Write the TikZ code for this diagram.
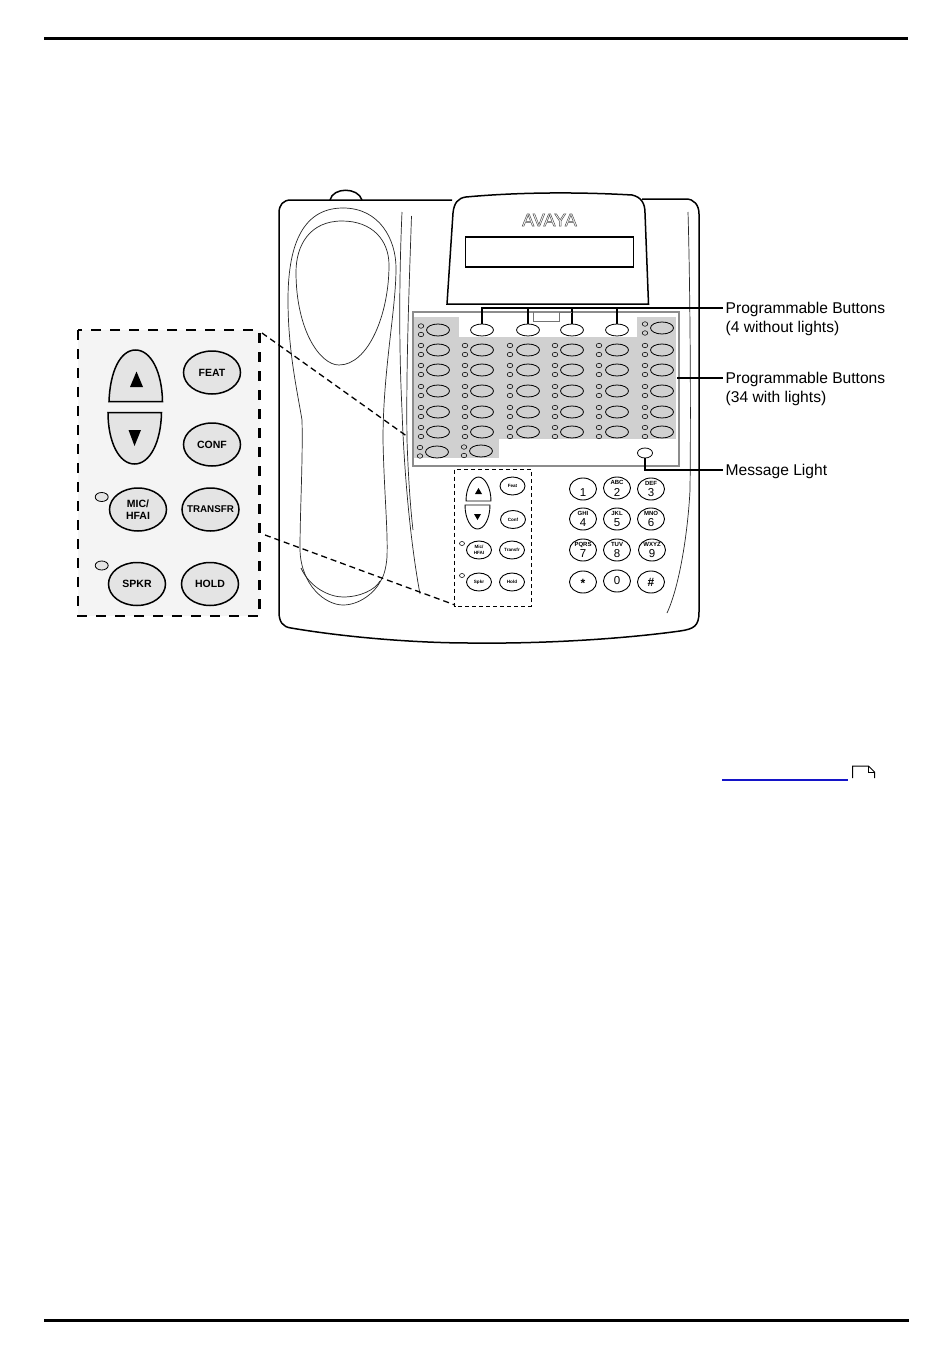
\documentclass[tikz,border=0pt]{standalone}
\usepackage{fontspec}
\setmainfont{Liberation Sans}
\usetikzlibrary{shapes.geometric}
\definecolor{panelgrey}{RGB}{208,208,208}
\definecolor{zoomfill}{RGB}{244,244,244}
\definecolor{keyfill}{RGB}{228,228,228}
\tikzset{
 x=1pt,y=-1pt,
 thin line/.style={draw=black!85,line width=0.7pt},
 phone line/.style={draw=black,line width=1.5pt},
 callout/.style={draw=black,line width=1.5pt},
 btn/.style={draw=black,line width=0.8pt,ellipse,minimum width=23pt,minimum height=12pt,inner sep=0pt,fill=none},
 btnw/.style={btn,fill=white},
 led/.style={draw=black,line width=0.5pt,ellipse,minimum width=5.5pt,minimum height=4.5pt,inner sep=0pt},
 zbtn/.style={draw=black,line width=1.5pt,ellipse,fill=keyfill,minimum width=57pt,minimum height=43pt,inner sep=0pt},
 ztext/.style={inner sep=0pt,align=center,font=\fontsize{10.5}{12}\selectfont\bfseries},
 zled/.style={draw=black,line width=0.8pt,ellipse,fill=keyfill,minimum width=13pt,minimum height=9pt,inner sep=0pt},
 sbtn/.style={draw=black,line width=0.9pt,ellipse,fill=white,minimum width=25pt,minimum height=18pt,inner sep=0pt},
 stext/.style={inner sep=0pt,align=center,font=\fontsize{4.6}{5.5}\selectfont\bfseries},
 sled/.style={draw=black,line width=0.5pt,ellipse,minimum width=5pt,minimum height=4pt,inner sep=0pt},
 key/.style={draw=black,line width=0.9pt,ellipse,minimum width=27pt,minimum height=22pt,inner sep=0pt},
 digit/.style={inner sep=0pt,font=\fontsize{11.5}{12}\selectfont},
 sublet/.style={inner sep=0pt,font=\fontsize{6}{6}\selectfont\bfseries},
 lbl/.style={anchor=west,align=left,font=\fontsize{15.6}{19}\selectfont,inner sep=0pt},
 dashz/.style={draw=black,line width=2.3pt,dash pattern=on 10pt off 9pt},
 dashs/.style={draw=black,line width=0.8pt,dash pattern=on 4pt off 3pt},
 dashc/.style={draw=black,line width=1.3pt,dash pattern=on 6pt off 4pt},
}
\begin{document}
\begin{tikzpicture}
\useasboundingbox (0,0) rectangle (950,1370);
\fill[white] (0,0) rectangle (950,1370);
% page rules
\coordinate (rt1) at (44,38.5); \coordinate (rt2) at (908,38.5);
\coordinate (rb1) at (44,1320.5); \coordinate (rb2) at (909,1320.5);
\draw[line width=2.6pt] (rt1) -- (rt2);
\draw[line width=2.6pt] (rb1) -- (rb2);
% phone body
\draw[phone line] (330,200) .. controls (333,187) and (358,187) .. (362,200);
\draw[phone line] (452,200) -- (291,200) .. controls (283,200) and (279,205) .. (279,213)
  -- (279,612) .. controls (279,622) and (283,627) .. (291,628)
  .. controls (350,638) and (420,643) .. (470,643)
  .. controls (550,644) and (630,638) .. (680,631) .. controls (694,629) and (699,626) .. (699,612)
  -- (699,214) .. controls (699,205) and (694,199) .. (686,199) -- (642,199);
% handset outer
\draw[thin line] (343,208) .. controls (300,208) and (288,250) .. (288,300)
  .. controls (288,350) and (297,390) .. (302,420) .. controls (303,460) and (300,510) .. (300,550)
  .. controls (301,585) and (325,605) .. (343,605) .. controls (360,605) and (375,592) .. (380,582);
\draw[thin line] (343,208) .. controls (380,208) and (396,240) .. (396,268)
  .. controls (396,310) and (383,370) .. (383,440) .. controls (384,490) and (388,530) .. (387,557)
  .. controls (386,570) and (383,578) .. (380,582);
% handset lower inner curve
\draw[thin line] (301,568) .. controls (310,588) and (330,597) .. (343,597) .. controls (360,597) and (375,590) .. (380,581);
% earpiece oval
\draw[thin line] (342,221) .. controls (310,221) and (296,245) .. (296,272)
  .. controls (296,330) and (320,365) .. (339,365) .. controls (368,365) and (389,315) .. (389,265)
  .. controls (389,240) and (372,221) .. (342,221);
% groove lines
\draw[thin line] (402,212) .. controls (399,280) and (399,350) .. (402,410) .. controls (404,470) and (410,540) .. (420,594);
\draw[thin line] (411.5,216) .. controls (409,290) and (406,370) .. (407,440) .. controls (408,470) and (410,505) .. (413,530);
\draw[thin line] (688,212) .. controls (690,280) and (691,400) .. (690,490) .. controls (688,530) and (680,585) .. (667,613);
% display housing
\draw[phone line,fill=white] (447,304) -- (453,213) .. controls (454,203) and (458,198) .. (466,197)
  .. controls (520,192) and (580,192) .. (632,195) .. controls (641,197) and (645,203) .. (645,213)
  -- (648.5,304) -- cycle;
\node[font=\fontsize{18}{18}\selectfont,inner sep=0pt,text=black!70] (logo) at (549.5,220) {\special{pdf:code 1 Tr 0.5 w}AVAYA\special{pdf:code 0 Tr}};
\draw[phone line,fill=white] (465.5,237) rectangle (633.5,267);
% panel
\draw[draw=black!45,line width=1.2pt,fill=white] (413,312) rectangle (679,466);
\fill[panelgrey] (414,317) rectangle (459,338);
\fill[panelgrey] (637,317) rectangle (676,338);
\fill[panelgrey] (414,337) rectangle (676,439);
\fill[panelgrey] (414,438) rectangle (499,458);
% buttons with lights
\foreach \xx/\lx in {438/421,482/465,528/510,572/555,617/599,662/645}{
  \foreach \yy in {350,370,391,412,432}{
    \node[btn] at (\xx,\yy) {};
    \node[led] at (\lx,\yy-4.5) {};
    \node[led] at (\lx,\yy+4.5) {};
  }
}
\node[btn] at (438,330) {}; \node[led] at (421,326) {}; \node[led] at (421,334.5) {};
\node[btn] at (662,328) {}; \node[led] at (645,324) {}; \node[led] at (645,333) {};
\node[btn] at (437,452) {}; \node[led] at (420,447.5) {}; \node[led] at (420,456) {};
\node[btn] at (481,451) {}; \node[led] at (464,447) {}; \node[led] at (464,455.5) {};
\node[btnw] (p1) at (482,330) {};
\node[btnw] (p2) at (528,330) {};
\node[btnw] (p3) at (572,330) {};
\node[btnw] (p4) at (617,330) {};
\node[btnw,minimum width=15pt,minimum height=10pt] (ml) at (645,453) {};
% zoom box
\fill[zoomfill] (78,330) rectangle (260,616);
\draw[dashz] (78,330) rectangle (259.5,616);
\coordinate (zt) at (262,333); \coordinate (zb) at (265,535);
\coordinate (st) at (408,437); \coordinate (sb) at (455,605);
\draw[dashc] (zt) -- (st);
\draw[dashc] (zb) -- (sb);
% zoom keys
\draw[draw=black,line width=1.5pt,fill=keyfill] (109,401.5) .. controls (110,372) and (120,350) .. (135.5,350) .. controls (151,350) and (162,372) .. (162.5,401.5) -- cycle;
\draw[draw=black,line width=1.5pt,fill=keyfill] (108,412.5) -- (161.5,412.5) .. controls (161,442) and (150,464) .. (134.5,464) .. controls (119,464) and (108,442) .. (108,412.5) -- cycle;
\fill[black] (136.5,371.5) -- (130,387) -- (143,387) -- cycle;
\fill[black] (134.5,446) -- (128.5,430) -- (141,430) -- cycle;
\node[zbtn,label={[ztext]center:FEAT}] (feat) at (212,372.5) {};
\node[zbtn,label={[ztext]center:CONF}] (conf) at (212,444.5) {};
\node[zbtn,label={[ztext]center:MIC/\\HFAI}] (mic) at (138,509.5) {};
\node[zbtn,label={[ztext,font=\fontsize{9.8}{12}\selectfont\bfseries]center:TRANSFR}] (transfr) at (210.5,509.5) {};
\node[zbtn,label={[ztext]center:SPKR}] (spkr) at (137,584) {};
\node[zbtn,label={[ztext]center:HOLD}] (hold) at (210,584) {};
\node[zled] (zl1) at (101.7,497) {};
\node[zled] (zl2) at (101.7,565.5) {};
% small panel
\draw[dashs] (454.5,469.5) rectangle (531,606);
\draw[draw=black,line width=0.9pt] (466,501) .. controls (466,488) and (472,477) .. (478.5,477) .. controls (485,477) and (491,488) .. (491,501) -- cycle;
\draw[draw=black,line width=0.9pt] (465,505) -- (490,505) .. controls (490,519) and (484,529) .. (477.5,529) .. controls (471,529) and (465,519) .. (465,505) -- cycle;
\fill[black] (478.5,488) -- (475,494) -- (482,494) -- cycle;
\fill[black] (477.5,520) -- (474,514) -- (481,514) -- cycle;
\node[sbtn,label={[stext]center:Feat}] (s1) at (512.5,486) {};
\node[sbtn,label={[stext]center:Conf}] (s2) at (513,519.5) {};
\node[sbtn,label={[stext]center:Mic/\\HFAI}] (s3) at (479,550) {};
\node[sbtn,label={[stext]center:Transfr}] (s4) at (512,550) {};
\node[sbtn,label={[stext]center:Spkr}] (s5) at (479,582) {};
\node[sbtn,label={[stext]center:Hold}] (s6) at (512,582) {};
\node[sled] (sl1) at (462,543.5) {};
\node[sled] (sl2) at (462,575.5) {};
% keypad
\foreach \kx/\ky/\ks/\kd in {583/489//1,617/488/ABC/2,651/489/DEF/3,
  583/519/GHI/4,617/519/JKL/5,651/519/MNO/6,
  583/550/PQRS/7,617/550/TUV/8,652/550/WXYZ/9}{
  \node[key] at (\kx,\ky) {};
  \node[digit] at (\kx,\ky+4) {\kd};
  \node[sublet] at (\kx,\ky-5.5) {\ks};
}
\node[key] (kstar) at (583,582) {}; \node[digit,font=\fontsize{12}{12}\selectfont\bfseries] at (583,583.5) {*};
\node[key] (kzero) at (617,581) {}; \node[digit] at (617,581) {0};
\node[key] (khash) at (651,582) {}; \node[digit,font=\fontsize{12}{12}\selectfont\bfseries] at (651,582) {\#};
% labels
\node[lbl] (l1) at (725.5,318.5) {Programmable Buttons\\(4 without lights)};
\node[lbl] (l2) at (725.5,388.5) {Programmable Buttons\\(34 with lights)};
\node[lbl] (l3) at (725.5,471) {Message Light};
\coordinate (c1) at (723,308);
\coordinate (c2) at (723,378);
\coordinate (c3) at (723,470);
\draw[callout] (c1) -| (p1.north);
\draw[callout] (528,308) -- (p2.north);
\draw[callout] (572,308) -- (p3.north);
\draw[callout] (617,308) -- (p4.north);
\draw[line width=0.9pt,draw=black!55] (533,312) -- (533,321) -- (559,321) -- (559,312) -- (572,312);
\draw[callout] (677,378) -- (c2);
\draw[callout] (ml.south) |- (c3);
% link
\draw[draw={rgb,255:red,20;green,20;blue,200},line width=1.4pt] (722,780) -- (848,780);
\draw[line width=1pt] (852.5,778) -- (852.5,766) -- (868.5,766) -- (874.5,772) -- (874.5,778);
\draw[line width=0.7pt] (868.5,766) -- (868.5,772) -- (874.5,772);
\end{tikzpicture}
\end{document}
